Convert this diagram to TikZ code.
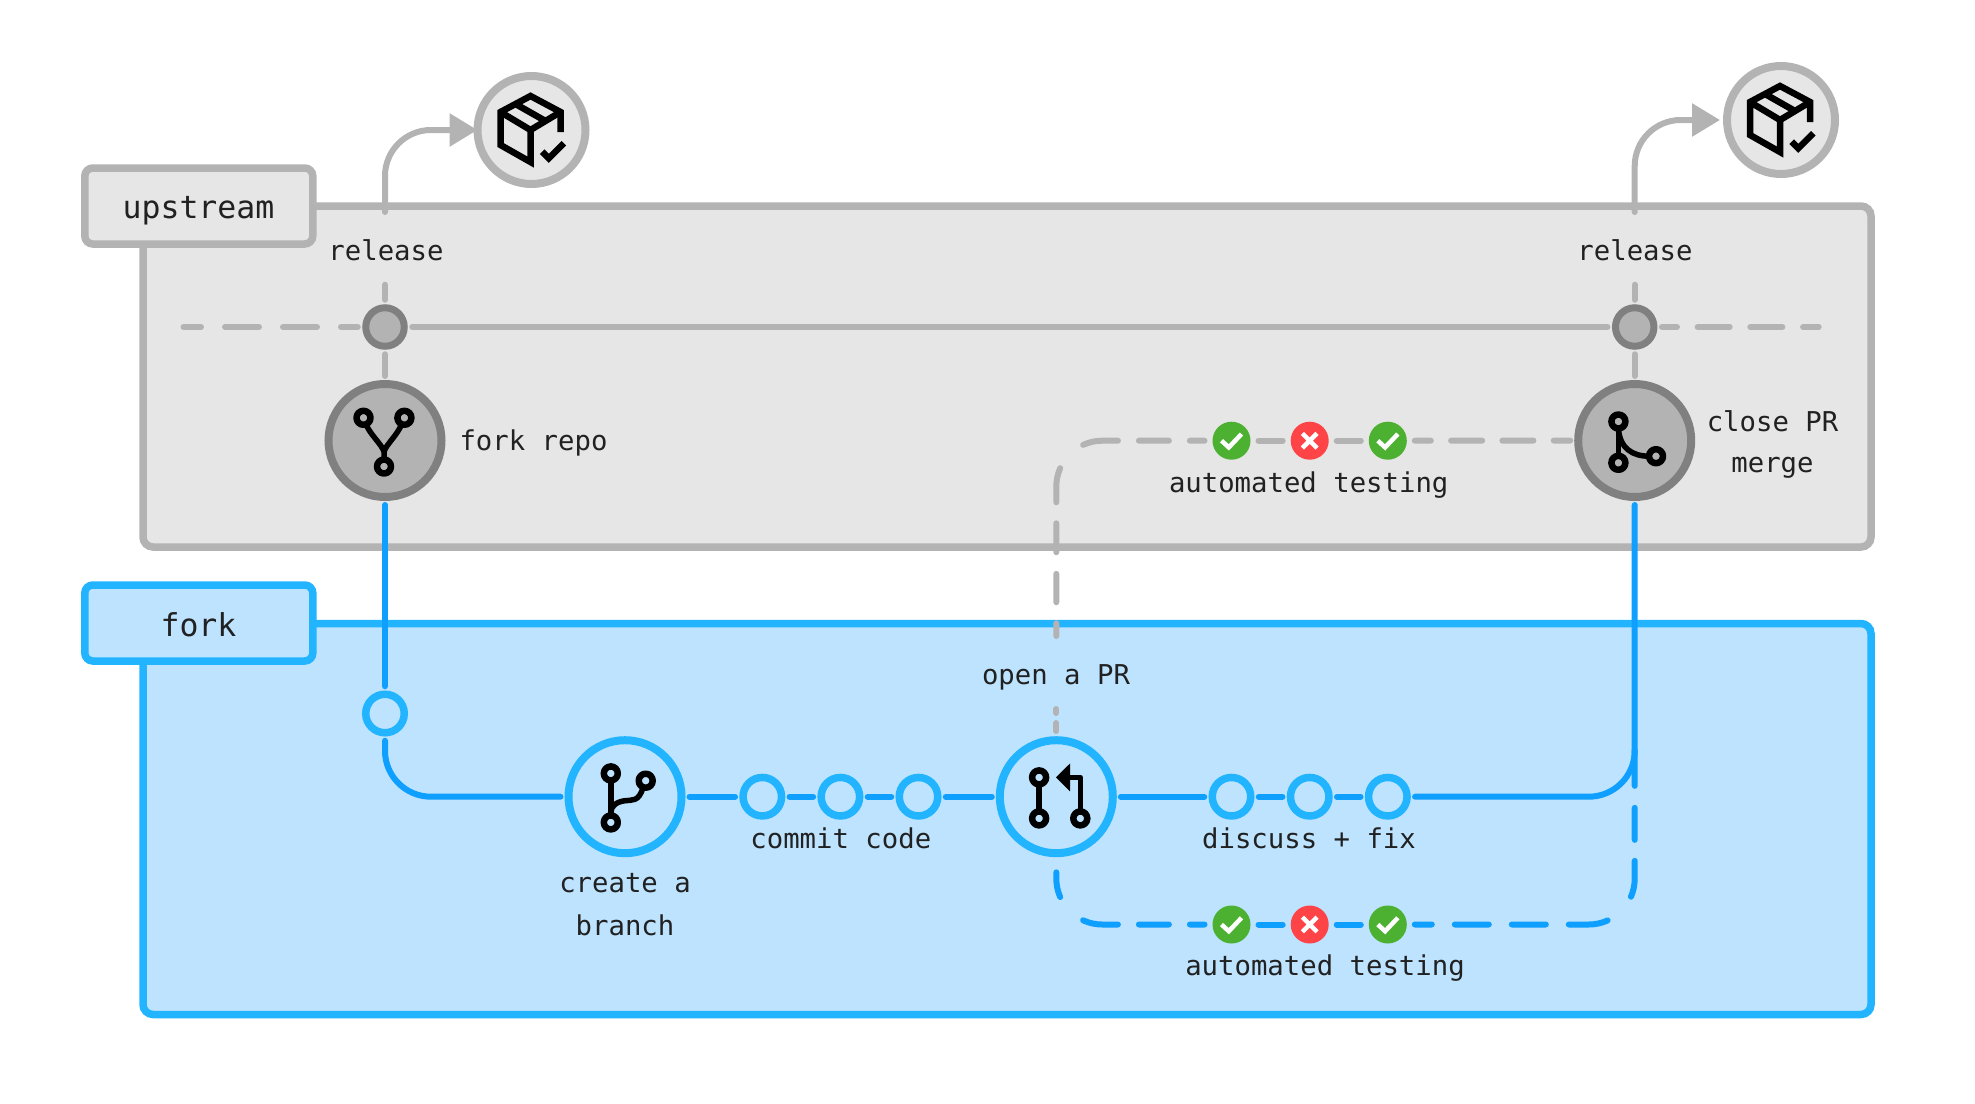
\documentclass[tikz,border=0pt]{standalone}
\usepackage{fontspec}
\setmonofont{DejaVu Sans Mono}
\usetikzlibrary{arrows.meta}
\definecolor{upfill}{HTML}{E6E6E6}
\definecolor{upline}{HTML}{B3B3B3}
\definecolor{updark}{HTML}{808080}
\definecolor{forkfill}{HTML}{BDE3FF}
\definecolor{forkline}{HTML}{22B4FF}
\definecolor{flowblue}{HTML}{0F9FFF}
\definecolor{passgreen}{HTML}{4CB030}
\definecolor{failred}{HTML}{FF4447}
\tikzset{
  areabox/.style={rectangle,draw,line width=3.75pt,rounded corners=5pt,inner sep=0pt,outer sep=0pt},
  upbox/.style={areabox,draw=upline,fill=upfill},
  fkbox/.style={areabox,draw=forkline,fill=forkfill},
  stage/.style={circle,line width=4pt,minimum size=56.5pt,inner sep=0pt,outer sep=0pt},
  upstage/.style={stage,draw=updark,fill=upline},
  fkstage/.style={stage,draw=forkline,fill=forkfill},
  pkg/.style={stage,draw=upline,fill=upfill,minimum size=54pt},
  updot/.style={upstage,minimum size=19.25pt,line width=3.5pt},
  fkdot/.style={fkstage,minimum size=19.25pt,line width=3.75pt},
  okbadge/.style={circle,fill=passgreen,minimum size=19pt,inner sep=0pt,outer sep=0pt},
  badbadge/.style={okbadge,fill=failred},
  txt/.style={font=\fontsize{13.65}{16}\selectfont\ttfamily,text=black!87,inner sep=0pt,align=center},
  areatxt/.style={txt,font=\fontsize{15.75}{18}\selectfont\ttfamily},
  gline/.style={draw=upline,line width=3pt,line cap=round,rounded corners=23pt},
  bline/.style={gline,draw=flowblue},
  both/.style={shorten <=4pt,shorten >=4pt},
  iconline/.style={draw=black,line width=2.75pt,line join=round},
  tick/.pic={\draw[white,line width=2.25pt] (-10,0) -- (-2.7,6.7) -- (10,-6.7);},
  cross/.pic={\draw[white,line width=2.25pt] (-7.3,-7.3) -- (7.3,7.3) (-7.3,7.3) -- (7.3,-7.3);},
  boxicon/.pic={
    \draw[iconline,line width=3.25pt,line join=miter] (29,2) -- (29,-18) -- (-1,-34) -- (-31,-18) -- (-31,15) -- (-1,32) -- (-1,0) -- (-31,-18);
    \draw[iconline,line width=3.25pt] (-1,0) -- (29,-18) (-16,-26) -- (14,-9);
    \draw[iconline,line width=3.25pt,line join=miter] (10.7,21.7) -- (17.3,28.3) -- (32.3,13.3);
  },
  forkicon/.pic={
    \draw[iconline,line width=3.25pt] (-21.5,-22.7) circle[radius=7] (19.4,-22.7) circle[radius=7] (-1,26) circle[radius=7];
    \draw[iconline] (-19,-16) .. controls (-14,-5) and (-4,3) .. (-1,11) .. controls (2,3) and (12,-5) .. (16.5,-16) (-1,11) -- (-1,19);
  },
  branchicon/.pic={
    \draw[iconline,line width=3.25pt] (-14.2,-23.3) circle[radius=7] (-14.2,25.7) circle[radius=7] (20.7,-16) circle[radius=7];
    \draw[iconline] (-14.2,-16) -- (-14.2,18.7);
    \draw[iconline] (18,-9.5) .. controls (14,6) and (6,3) .. (0,4) .. controls (-8,5) and (-14.2,9) .. (-14.2,16);
  },
  pullicon/.pic={
    \draw[iconline,line width=3.25pt] (-17.2,-19.3) circle[radius=7] (-17.2,21.7) circle[radius=7] (24,21.7) circle[radius=7];
    \draw[iconline] (-17.2,-12) -- (-17.2,14.7);
    \draw[iconline] (24,14.7) -- (24,-19.3) -- (12,-19.3);
    \fill[black] (-0.4,-19.3) -- (13.8,-33.3) -- (13.8,-5.3) -- cycle;
  },
  mergeicon/.pic={
    \draw[iconline,line width=3.25pt] (-16.3,-19) circle[radius=7] (-16.3,22.3) circle[radius=7] (21.3,15.7) circle[radius=7];
    \draw[iconline] (-16.3,-12) -- (-16.3,15.3);
    \draw[iconline] (-16.3,-12) .. controls (-15,8) and (-2,15.7) .. (14.3,15.7);
  }
}
\begin{document}
\begin{tikzpicture}[x=0.5pt,y=-0.5pt]
  \useasboundingbox (0,0) rectangle (1975,1103);
  % areas
  \node[upbox,minimum width=864pt,minimum height=170.5pt] (uparea) at (1007,376.5) {};
  \node[upbox,rounded corners=4pt,minimum width=114pt,minimum height=38pt] (uplabel) at (198.8,206) {};
  \node[fkbox,minimum width=864pt,minimum height=195.5pt] (fkarea) at (1007,819) {};
  \node[fkbox,rounded corners=4pt,minimum width=114pt,minimum height=38pt] (fklabel) at (198.8,623) {};
  % upstream nodes
  \node[pkg] (pkgL) at (531.5,130) {};
  \node[pkg] (pkgR) at (1781,120) {};
  \node[updot] (relL) at (385,327) {};
  \node[updot] (relR) at (1634.7,327) {};
  \node[upstage] (forkrepo) at (385,440.5) {};
  \node[upstage] (merge) at (1634.7,440.5) {};
  \node[okbadge] (gt1) at (1231.5,440.7) {};
  \node[badbadge] (gt2) at (1309.7,440.7) {};
  \node[okbadge] (gt3) at (1387.8,440.7) {};
  % fork nodes
  \node[fkdot] (fkstart) at (385,713.5) {};
  \node[fkstage] (branch) at (625,796.7) {};
  \node[fkdot] (cm1) at (762.3,796.7) {};
  \node[fkdot] (cm2) at (840.4,796.7) {};
  \node[fkdot] (cm3) at (918.5,796.7) {};
  \node[fkstage] (pr) at (1056.3,796.7) {};
  \node[fkdot] (ds1) at (1231.5,796.7) {};
  \node[fkdot] (ds2) at (1309.7,796.7) {};
  \node[fkdot] (ds3) at (1387.8,796.7) {};
  \node[okbadge] (gb1) at (1231.5,924.5) {};
  \node[badbadge] (gb2) at (1309.7,924.5) {};
  \node[okbadge] (gb3) at (1387.8,924.5) {};
  % free ends
  \coordinate (relupL) at (385,212);
  \coordinate (relupR) at (1634.7,212);
  \coordinate (reldnL) at (385,284.7);
  \coordinate (reldnR) at (1634.7,284.7);
  \coordinate (tlstart) at (183.5,327);
  \coordinate (tlend) at (1818.7,327);
  \coordinate (prtop) at (1056.3,636);
  \coordinate (prlow) at (1056.3,709);
  \coordinate (joinR) at (1634.7,750);
  % releases
  \draw[gline,-{Triangle[length=14pt,width=16pt]},shorten >=0pt] (relupL) |- (pkgL);
  \draw[gline,-{Triangle[length=14pt,width=16pt]},shorten >=3.5pt] (relupR) |- (pkgR);
  \draw[gline,shorten >=4pt] (reldnL) -- (relL);
  \draw[gline,shorten >=4pt] (reldnR) -- (relR);
  \draw[gline,both] (relL) -- (forkrepo);
  \draw[gline,both] (relR) -- (merge);
  % timeline
  \draw[gline,shorten >=4pt,dash pattern=on 17pt off 12pt,dash phase=8.25pt] (tlstart) -- (relL);
  \draw[gline,both] (relL) -- (relR);
  \draw[gline,shorten <=4pt,dash pattern=on 16pt off 10.35pt,dash phase=8.5pt] (relR) -- (tlend);
  % pull request checks on upstream
  \draw[gline,shorten <=4pt,dash pattern=on 7.3pt off 10.5pt on 15pt off 10.5pt on 17.7pt off 16.7pt on 17.3pt off 10.5pt on 14.5pt off 10.8pt on 14.2pt off 10.5pt on 6.5pt off 100pt] (gt1) -| (prtop);
  \draw[gline,both] (gt1) -- (gt2);
  \draw[gline,both] (gt2) -- (gt3);
  \draw[gline,both,dash pattern=on 15.5pt off 10.15pt,dash phase=7.5pt] (gt3) -- (merge);
  \draw[gline,shorten >=4pt,dash pattern=on 2pt off 5pt on 4pt off 100pt] (prlow) -- (pr);
  % fork flow
  \draw[bline,both] (forkrepo) -- (fkstart);
  \draw[bline,both] (fkstart) |- (branch);
  \draw[bline,both] (branch) -- (cm1);
  \draw[bline,both] (cm1) -- (cm2);
  \draw[bline,both] (cm2) -- (cm3);
  \draw[bline,both] (cm3) -- (pr);
  \draw[bline,both] (pr) -- (ds1);
  \draw[bline,both] (ds1) -- (ds2);
  \draw[bline,both] (ds2) -- (ds3);
  \draw[bline,both] (ds3) -| (merge);
  % checks on the fork
  \draw[bline,both,dash pattern=on 7.3pt off 10.5pt on 15pt off 10.5pt on 17.7pt off 16.7pt on 12.6pt off 6.9pt on 2pt off 100pt] (gb1) -| (pr);
  \draw[bline,both] (gb1) -- (gb2);
  \draw[bline,both] (gb2) -- (gb3);
  \draw[bline,shorten <=4pt,dash pattern=on 8.5pt off 11.5pt on 17pt off 11.5pt on 17pt off 11.5pt on 19.7pt off 17pt on 18.2pt off 10.5pt on 16pt off 11pt on 18pt off 100pt] (gb3) -| (joinR);
  % icons
  \pic at (pkgL) {boxicon};
  \pic at (pkgR) {boxicon};
  \pic at (forkrepo) {forkicon};
  \pic at (merge) {mergeicon};
  \pic at (branch) {branchicon};
  \pic at (pr) {pullicon};
  \pic at (gt1) {tick};
  \pic at (gt2) {cross};
  \pic at (gt3) {tick};
  \pic at (gb1) {tick};
  \pic at (gb2) {cross};
  \pic at (gb3) {tick};
  % labels
  \node[areatxt] (uptxt) at (198.5,211) {upstream};
  \node[areatxt] (fktxt) at (198.5,625) {fork};
  \node[txt] (reltxtL) at (386,250.5) {release};
  \node[txt] (reltxtR) at (1635,250.5) {release};
  \node[txt] (forktxt) at (533.5,443) {fork repo};
  \node[txt] (closetxt) at (1772.5,421) {close PR};
  \node[txt] (mergetxt) at (1772.5,468) {merge};
  \node[txt] (gttxt) at (1308.7,485.5) {automated testing};
  \node[txt] (prtxt) at (1056,677) {open a PR};
  \node[txt] (cmtxt) at (840.8,838) {commit code};
  \node[txt] (dstxt) at (1309,838) {discuss + fix};
  \node[txt] (brtxtA) at (625,883) {create a};
  \node[txt] (brtxtB) at (625,925) {branch};
  \node[txt] (gbtxt) at (1325,968) {automated testing};
\end{tikzpicture}
\end{document}
